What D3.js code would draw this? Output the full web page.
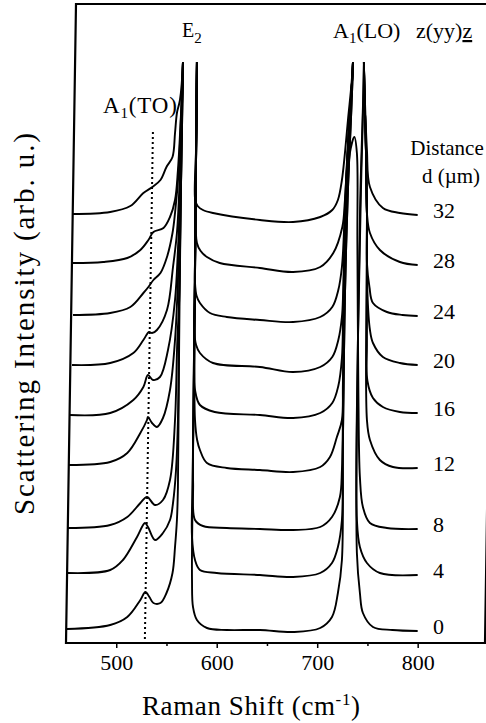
<!DOCTYPE html>
<html>
<head>
<meta charset="utf-8">
<script src="https://cdn.jsdelivr.net/npm/d3@7"></script>
<style>
  body { margin: 0; background: #fff; }
  svg { display: block; }
  text { font-family: "Liberation Serif", "Times New Roman", serif; fill: #000; }
</style>
</head>
<body>
<div class="canvas"></div>
<script>
var width = 486;
var height = 723;

// distance d (um) of each spectrum, bottom to top
const distances = [0, 4, 8, 12, 16, 20, 24, 28, 32];

// spectra: [Raman shift (cm-1), intensity (arb. u., stacking offset included)]
// E2 and A1(LO) peaks run past the top of the plot and are cut there
const spec0 = [[451,14],[494,18],[511,26],[524,43],[529,51],[533,46],[537,40],[544,40],[550,50],[556,70],[558.5,96],[560.4,123],[561.4,156],[562.6,300],[564.2,443],[566.4,581],[567,700],[580,700],[580.3,581],[579,443],[577.5,300],[576,150],[575.4,63],[576.4,36],[580.3,23],[590.3,15],[610,13],[643,13],[676,11],[703,15],[714.7,26],[720.6,50],[724.6,83],[725.6,200],[727.5,343],[730.5,450],[735.6,581],[736,700],[746,700],[746.5,581],[743,450],[740.5,300],[739.5,90],[742.5,50],[745.5,30],[755.5,16],[775,13],[800,12]];
const spec4 = [[452,70],[494,73],[506.7,83],[520.7,106],[528.6,120],[531.6,116],[538.6,103],[546.5,110],[553.5,123],[556.5,140],[559.5,173],[561.4,223],[562.6,343],[564.2,443],[566.4,581],[567,700],[580,700],[580.3,581],[579,443],[577.5,300],[576,160],[575.4,106],[578.4,83],[583.3,73],[600,70],[643,68],[676,66],[703,70],[714.7,80],[720.6,96],[724.6,123],[725.6,200],[727.5,343],[730.5,450],[735.6,581],[736,700],[746,700],[746.5,581],[743.5,450],[740.5,300],[739.5,123],[742.5,96],[749.5,80],[762.4,70],[800,68]];
const spec8 = [[452,115],[494,118],[511,126],[524,140],[530.6,146],[538.6,138],[546.5,143],[553.5,163],[558.5,223],[560.7,300],[562.6,343],[564.2,443],[566.4,581],[567,700],[580,700],[580.3,581],[579,443],[578.2,343],[576.8,223],[576.5,160],[578.4,123],[586.3,117],[610,115],[643,114],[676,113],[703,116],[714.7,126],[722.6,146],[724.6,173],[725.6,223],[727,343],[729.5,440],[732.5,490],[737,506],[739.5,490],[740,400],[741,250],[742.5,166],[745.5,136],[752.5,120],[769.4,115],[800,114]];
const spec12 = [[452,178],[494,181],[511,190],[524,210],[530.6,223],[531.6,226],[535.6,220],[540.5,216],[546.5,225],[553.5,253],[558.5,303],[561.4,363],[563,430],[564.5,500],[566.4,581],[567,700],[580,700],[580.3,581],[579,443],[578.2,343],[577.8,260],[578.4,223],[580.5,203],[583.3,193],[590.3,180],[610,175],[643,173],[676,171],[703,176],[712.7,186],[719.6,206],[724.6,223],[725.6,260],[727,343],[728.6,443],[731.6,513],[735.6,581],[736,700],[746,700],[746.5,581],[748.5,493],[749.5,430],[749.5,223],[752.5,203],[762.4,183],[775.4,176],[800,175]];
const spec16 = [[454,228],[494,230],[517,243],[527,256],[531.6,268],[536.6,263],[543.5,266],[551.5,293],[558.5,343],[561.4,393],[563,430],[564.5,500],[566.4,581],[567,700],[580,700],[580.3,581],[579,443],[578.2,343],[577.5,270],[578.4,253],[583.3,238],[598,231],[643,228],[676,225],[703,230],[715,240],[721,257],[724.6,285],[725.8,330],[727,390],[729,460],[732,520],[735.6,581],[736,700],[746,700],[746.5,581],[748.5,493],[749.5,430],[749.5,300],[750,262],[755.5,245],[765.4,236],[782.3,231],[800,230]];
const spec20 = [[456,278],[494,280],[517,290],[527,303],[532.6,311],[535.6,310],[540.5,313],[550.5,333],[556.5,376],[560.4,410],[562.6,450],[564.2,500],[566.4,581],[567,700],[580,700],[580.3,581],[579,443],[578.2,343],[577.4,315],[579.5,298],[583.3,290],[596.3,280],[643,276],[676,271],[703,276],[715,286],[721,303],[724.6,326],[725.8,350],[727,400],[729,460],[732,520],[735.6,581],[736,700],[746,700],[746.5,581],[748.5,493],[749.5,430],[750,350],[752.5,313],[755.5,300],[765.4,286],[782.3,280],[800,278]];
const spec24 = [[457,328],[494,330],[514,336],[527,350],[532,356],[537,363],[544,370],[550.5,386],[556,410],[558.5,430],[562,470],[564.2,520],[566.4,581],[567,700],[580,700],[580.3,581],[579.2,480],[578.8,400],[578.4,360],[580,347],[583.3,340],[593.3,330],[610,326],[643,323],[676,321],[703,326],[715,336],[721,353],[724.6,376],[726.6,410],[729,470],[732.5,530],[735.6,581],[736,700],[746,700],[746.5,581],[748.5,493],[749.5,430],[749.5,380],[752,356],[755.5,340],[769.4,331],[785,328],[800,327]];
const spec28 = [[457,380],[487,381],[511,385],[524,393],[532,403],[537,411],[547,415],[553.5,426],[558.5,443],[561.4,473],[564,520],[566.4,581],[567,700],[580,700],[580.3,581],[579.4,493],[579,443],[580.3,400],[584,392],[590.3,386],[603,380],[643,375],[676,371],[703,376],[716,390],[725,416],[727.6,443],[731.5,513],[735.6,581],[736,700],[746,700],[746.5,581],[748.5,493],[749.5,430],[752.5,410],[762.4,393],[782.3,381],[800,378]];
const spec32 = [[456,429],[494,431],[514,437],[527,450],[536,456],[544,463],[550,476],[556,486],[558.5,510],[560.4,530],[563.4,543],[566.4,581],[567,700],[580,700],[580.3,581],[579.4,493],[578.6,443],[581,437],[586.3,433],[596.3,430],[643,423],[676,421],[703,426],[715,433],[720.6,443],[724.6,463],[730.6,523],[735.6,581],[736,700],[746,700],[746.5,581],[747.5,543],[749.5,493],[752.5,456],[765.4,435],[782.3,430],[800,428]];
const spectra = [spec0, spec4, spec8, spec12, spec16, spec20, spec24, spec28, spec32];

const xTicks = [500, 600, 700, 800];
const xMinorTicks = [550, 650, 750];
// dotted A1(TO) guide, [shift, intensity] at both ends
const toGuide = [[528.5, 4], [536.5, 511]];

const m = { left: 66, right: 485, top: 4, bottom: 643 };
const lean = 10; // scanned frame leans right towards the top

var x = d3.scaleLinear().domain([450, 867]).range([m.left, m.right]);
var y = d3.scaleLinear().domain([0, 639]).range([m.bottom, m.top]);

var svg = d3.select(".canvas").append("svg")
    .attr("width", width)
    .attr("height", height)
    .style("background", "white");

svg.append("clipPath").attr("id", "cut")
    .append("rect")
    .attr("x", m.left).attr("y", y(581))
    .attr("width", m.right - m.left).attr("height", m.bottom - y(581));

// frame
svg.append("path")
    .attr("d", `M${m.left + lean},${m.top}L${m.left},${m.bottom}L${m.right},${m.bottom}L${m.right + lean},${m.top}Z`)
    .attr("fill", "none")
    .attr("stroke", "#000")
    .attr("stroke-width", 2.2);

// bottom ticks
var xAxis = svg.append("g")
    .attr("transform", `translate(0,${m.bottom})`)
    .call(d3.axisBottom(x).tickValues(xTicks).tickSize(5).tickPadding(6).tickSizeOuter(0));
xAxis.select(".domain").remove();
xAxis.selectAll("line").attr("stroke-width", 1.5);
xAxis.selectAll("text")
    .style("font-family", "'Liberation Serif', serif")
    .style("font-size", "22px");

svg.append("g")
    .attr("transform", `translate(0,${m.bottom})`)
    .call(d3.axisBottom(x).tickValues(xMinorTicks).tickSize(3).tickFormat("").tickSizeOuter(0))
    .call(g => g.select(".domain").remove())
    .selectAll("line").attr("stroke-width", 1.5);

// spectra
var line = d3.line()
    .x(d => x(d[0]))
    .y(d => y(d[1]))
    .curve(d3.curveCatmullRom.alpha(0.5));

var groupSpectra = svg.append("g").attr("clip-path", "url(#cut)");
groupSpectra.selectAll("path.spec")
    .data(spectra)
    .enter()
    .append("path")
    .attr("class", "spec")
    .attr("d", line)
    .attr("fill", "none")
    .attr("stroke", "#000")
    .attr("stroke-width", 1.9)
    .attr("stroke-linejoin", "round");

// A1(TO) guide
svg.append("line")
    .attr("x1", x(toGuide[0][0])).attr("y1", y(toGuide[0][1]))
    .attr("x2", x(toGuide[1][0])).attr("y2", y(toGuide[1][1]))
    .attr("stroke", "#000")
    .attr("stroke-width", 2)
    .attr("stroke-dasharray", "2,3");

// distance labels at the right end of each spectrum
svg.selectAll("text.dist")
    .data(spectra)
    .enter()
    .append("text")
    .attr("class", "dist")
    .attr("x", 433)
    .attr("y", d => y(d[d.length - 1][1]) + 3)
    .style("font-size", "22px")
    .text((d, i) => distances[i]);

// peak labels
var e2 = svg.append("text").attr("x", 182).attr("y", 37).style("font-size", "20px");
e2.append("tspan").text("E");
e2.append("tspan").attr("dy", 6).style("font-size", "15px").text("2");

var ato = svg.append("text").attr("x", 103).attr("y", 113).style("font-size", "23px")
    .attr("textLength", 74).attr("lengthAdjust", "spacing");
ato.append("tspan").text("A");
ato.append("tspan").attr("dy", 5).style("font-size", "15px").text("1");
ato.append("tspan").attr("dy", -5).text("(TO)");

var alo = svg.append("text").attr("x", 333).attr("y", 38).style("font-size", "22px");
alo.append("tspan").text("A");
alo.append("tspan").attr("dy", 5).style("font-size", "15px").text("1");
alo.append("tspan").attr("dy", -5).text("(LO)");

var geo = svg.append("text").attr("x", 416).attr("y", 38).style("font-size", "22px");
geo.append("tspan").text("z(yy)");
geo.append("tspan").style("text-decoration", "underline").text("z");

svg.append("text").attr("x", 447).attr("y", 155).attr("text-anchor", "middle")
    .style("font-size", "21px").text("Distance");
svg.append("text").attr("x", 451).attr("y", 183).attr("text-anchor", "middle")
    .style("font-size", "21px").text("d (\u00b5m)");

// axis titles
var xt = svg.append("text").attr("x", 142).attr("y", 715)
    .attr("textLength", 218).attr("lengthAdjust", "spacing")
    .style("font-size", "27px");
xt.append("tspan").text("Raman Shift (cm");
xt.append("tspan").attr("dy", -10).style("font-size", "17px").text("-1");
xt.append("tspan").attr("dy", 10).text(")");

svg.append("text")
    .attr("transform", "translate(34,515) rotate(-90)")
    .attr("textLength", 382).attr("lengthAdjust", "spacing")
    .style("font-size", "29px")
    .text("Scattering Intensity (arb. u.)");
</script>
</body>
</html>
